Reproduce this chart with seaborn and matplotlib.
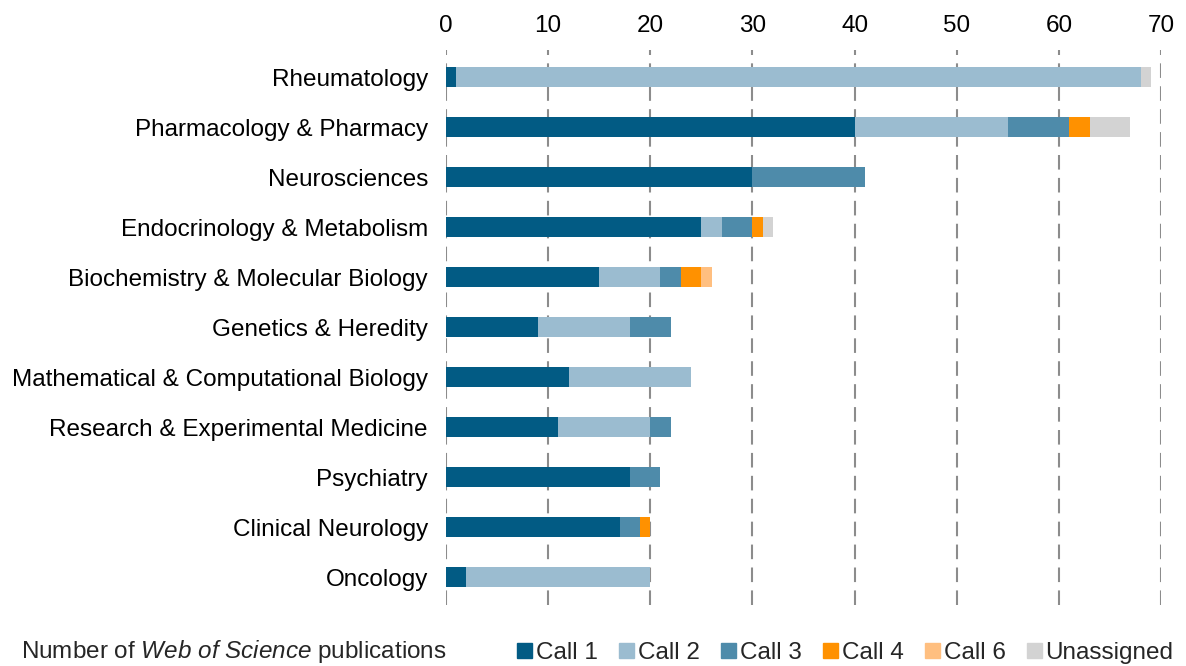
import pandas as pd
import seaborn as sns
import matplotlib.pyplot as plt
from matplotlib.patches import Patch

sns.set_theme(style="white")
plt.rcParams['font.family'] = ['Liberation Sans', 'DejaVu Sans']
plt.rcParams['mathtext.fontset'] = 'custom'
plt.rcParams['mathtext.it'] = 'Liberation Sans:italic'
plt.rcParams['mathtext.rm'] = 'Liberation Sans'

categories = [
    "Rheumatology",
    "Pharmacology & Pharmacy",
    "Neurosciences",
    "Endocrinology & Metabolism",
    "Biochemistry & Molecular Biology",
    "Genetics & Heredity",
    "Mathematical & Computational Biology",
    "Research & Experimental Medicine",
    "Psychiatry",
    "Clinical Neurology",
    "Oncology",
]
call1 = [1, 40, 30, 25, 15, 9, 12, 11, 18, 17, 2]
call2 = [67, 15, 0, 2, 6, 9, 12, 9, 0, 0, 18]
call3 = [0, 6, 11, 3, 2, 4, 0, 2, 3, 2, 0]
call4 = [0, 2, 0, 1, 2, 0, 0, 0, 0, 1, 0]
call6 = [0, 0, 0, 0, 1, 0, 0, 0, 0, 0, 0]
unassigned = [1, 4, 0, 1, 0, 0, 0, 0, 0, 0, 0]

series = ["Call 1", "Call 2", "Call 3", "Call 4", "Call 6", "Unassigned"]
colors = ["#025b84", "#9bbcd0", "#4e8baa", "#ff9100", "#ffbf80", "#d3d3d3"]

df = pd.DataFrame({"Category": categories, "Call 1": call1, "Call 2": call2,
                   "Call 3": call3, "Call 4": call4, "Call 6": call6,
                   "Unassigned": unassigned})
cum = df[series].cumsum(axis=1)
cum["Category"] = df["Category"]

FS = 17.5

fig = plt.figure(figsize=(11.86, 6.66), dpi=100)
ax = fig.add_axes([0.376, 0.092, 0.603, 0.833])

# stacked bars: draw cumulative totals from longest to shortest
for s, c in reversed(list(zip(series, colors))):
    sns.barplot(data=cum, x=s, y="Category", color=c, orient="h",
                width=0.4, saturation=1, linewidth=0, ax=ax, order=categories)

ax.set_xlim(0, 70)
ax.set_ylim(10.55, -0.55)
ax.set_xticks(range(0, 71, 10))
ax.xaxis.tick_top()
ax.set_xlabel("")
ax.set_ylabel("")
ax.tick_params(axis="both", length=0, labelsize=FS, colors="black")
ax.tick_params(axis="y", pad=13)
ax.tick_params(axis="x", pad=9)
for sp in ax.spines.values():
    sp.set_visible(False)
ax.grid(axis="x", color="#8c8c8c", linestyle=(0, (7, 4)), linewidth=1.5)
ax.set_axisbelow(True)

fig.text(0.018, 0.002, r"Number of $\it{Web\ of\ Science}$ publications",
         fontsize=FS, va="bottom")
handles = [Patch(color=c, label=s) for s, c in zip(series, colors)]
fig.legend(handles=handles, loc="lower right", bbox_to_anchor=(1.008, -0.03),
           ncol=6, frameon=False, fontsize=FS, handlelength=0.6,
           handleheight=0.6, handletextpad=0.15, columnspacing=0.9)

fig.savefig("out.png", dpi=100)
